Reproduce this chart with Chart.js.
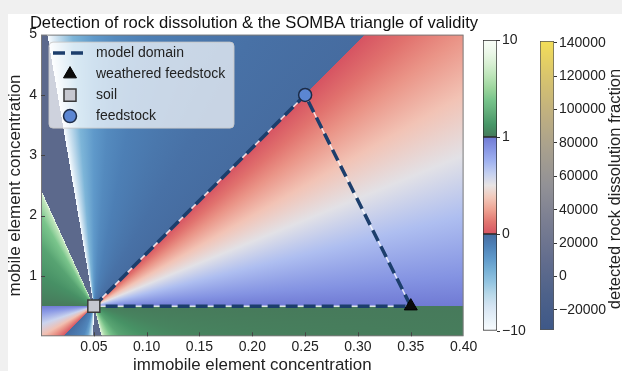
<!DOCTYPE html>
<html>
<head>
<meta charset="utf-8">
<title>SOMBA triangle of validity</title>
<script src="https://cdn.jsdelivr.net/npm/chart.js@4.4.1/dist/chart.umd.min.js"></script>
<style>
  html, body { margin: 0; padding: 0; background: #f0f0f0; }
  #page { position: relative; width: 622px; height: 371px; overflow: hidden; }
  #paper { position: absolute; left: 8px; top: 14px; right: 0; bottom: 0; background: #fff; }
  canvas { position: absolute; top: 0; }
  #main { left: 0; }
  #cb1 { left: 470px; }
  #cb2 { left: 527px; }
</style>
</head>
<body>
<div id="page">
  <div id="paper"></div>
  <canvas id="main" width="622" height="371"></canvas>
  <canvas id="cb1" width="60" height="371"></canvas>
  <canvas id="cb2" width="95" height="371"></canvas>
</div>
<script>
// end members (immobile, mobile concentration)
var endLabels   = ['soil', 'feedstock', 'weathered feedstock'];
var endImmobile = [0.05, 0.25, 0.35];
var endMobile   = [0.5, 4.0, 0.5];
var domainPath  = [0, 1, 2, 0];   // soil -> feedstock -> weathered -> soil

// dissolution value read along the plot border (field is a fan around the soil point)
var edgeX = [0.40, 0.40, 0.25, 0.15, 0.10, 0.075, 0.067, 0.061, 0.0575, 0.0575, 0.0495, 0.0495, 0.047, 0.044, 0.04, 0.03, 0.0214, 0.0214, 0.01, 0.0,
             0.0, 0.0, 0.0, 0.0, 0.0, 0.0, 0.0, 0.0, 0.0, 0.0, 0.0,
             0.006, 0.006, 0.015, 0.03, 0.05, 0.07, 0.10, 0.15, 0.20, 0.3071, 0.3071, 0.35, 0.40,
             0.40, 0.40, 0.40, 0.40, 0.40];
var edgeY = [0.5, 0, 0, 0, 0, 0, 0, 0, 0, 0, 0, 0, 0, 0, 0, 0, 0, 0, 0, 0,
             0.2, 0.4, 0.5, 0.5, 1.0, 1.5, 2.0, 2.35, 2.43, 2.43, 5,
             5, 5, 5, 5, 5, 5, 5, 5, 5, 5, 5, 5, 5,
             4, 3, 2, 1, 0.5];
var edgeF = [1.01, 1.11, 1.2, 1.42, 1.95, 2.9, 4.2, 6, 8.5, 11, -11, -10, -6, -3, -1.5, -0.6, -0.02, 0, 0.22, 0.35,
             0.6, 0.86, 0.99, 1.01, 1.9, 2.8, 4.5, 6.8, 9, 11, 11,
             -11, -10, -7, -4, -2.5, -1.7, -1.1, -0.6, -0.3, -0.02, 0, 0.11, 0.21,
             0.36, 0.52, 0.7, 0.89, 1.0];

// colour bars
var levelTicks = [-10, 0, 1, 10];
var fracRange  = [-32000, 141000];
var fracTicks  = [-20000, 0, 20000, 40000, 60000, 80000, 100000, 120000, 140000];

var FONT = '"Liberation Sans", Arial, Helvetica, sans-serif';
Chart.defaults.font.family = FONT;
Chart.defaults.color = '#222';

// colour ramps (already blended with white like the original)
var BLUES = [[249,252,255],[231,241,249],[214,229,243],[185,217,233],[148,197,225],[119,177,214],[95,153,202],[78,130,184],[70,108,160]];
var COOL  = [[112,122,212],[135,150,228],[160,178,240],[196,208,240],[232,228,228],[242,200,186],[238,162,146],[226,118,112],[214,84,98]];
var GREENS = [[71,122,91],[71,150,103],[97,172,121],[118,195,138],[155,213,156],[187,228,183],[215,239,210],[236,248,233],[249,253,248]];
var SLATE = 'rgb(92,105,140)';
var CIVIDIS = [[62,88,136],[78,98,138],[100,110,142],[122,126,146],[146,145,150],[168,160,142],[192,176,128],[216,196,110],[243,222,88]];

function ramp(stops, t) {
  t = Math.min(1, Math.max(0, t));
  var p = t * (stops.length - 1);
  var i = Math.min(stops.length - 2, Math.floor(p));
  var f = p - i, a = stops[i], b = stops[i + 1];
  return 'rgb(' + [0, 1, 2].map(function (k) { return Math.round(a[k] + (b[k] - a[k]) * f); }).join(',') + ')';
}

function fieldColour(F) {
  if (F > 10 || F < -10) return SLATE;
  if (F < 0) return ramp(BLUES, (F + 10) / 10);
  if (F <= 1) return ramp(COOL, 1 - F);
  return ramp(GREENS, (F - 1) / 9);
}

// conic gradient centred on the soil point, stops placed at the border points
function fieldGradient(ctx) {
  var chart = ctx.chart;
  if (!chart.chartArea) return 'rgba(0,0,0,0)';
  var sx = chart.scales.x, sy = chart.scales.y;
  var cx = sx.getPixelForValue(endImmobile[0]), cy = sy.getPixelForValue(endMobile[0]);
  var g = chart.ctx.createConicGradient(0, cx, cy);
  var prev = 0;
  edgeX.forEach(function (x, i) {
    var a = Math.atan2(sy.getPixelForValue(edgeY[i]) - cy, sx.getPixelForValue(x) - cx);
    if (a < 0) a += 2 * Math.PI;
    if (a < prev - 1e-9) a += 2 * Math.PI;
    prev = a;
    g.addColorStop(Math.min(1, Math.max(0, a / (2 * Math.PI))), fieldColour(edgeF[i]));
  });
  return g;
}

function pts(idx) {
  return idx.map(function (i) { return {x: endImmobile[i], y: endMobile[i]}; });
}

function fmtNum(v) {
  return v < 0 ? '\u2212' + Math.abs(v) : String(v);
}

// frame, inward ticks and the boxed legend
var framePlugin = {
  id: 'frame',
  afterDatasetsDraw: function (chart) {
    var ctx = chart.ctx, a = chart.chartArea;
    ctx.save();
    ctx.strokeStyle = '#7a7a7a';
    ctx.lineWidth = 1;
    ctx.strokeRect(a.left + 0.5, a.top + 0.5, a.right - a.left - 1, a.bottom - a.top - 1);
    ctx.strokeStyle = '#444';
    ctx.beginPath();
    chart.scales.x.ticks.forEach(function (t) {
      if (t.value <= 0 || t.value >= 0.4) return;
      var px = Math.round(chart.scales.x.getPixelForValue(t.value)) + 0.5;
      ctx.moveTo(px, a.bottom); ctx.lineTo(px, a.bottom - 4);
    });
    chart.scales.y.ticks.forEach(function (t) {
      if (t.value <= 0 || t.value >= 5) return;
      var py = Math.round(chart.scales.y.getPixelForValue(t.value)) + 0.5;
      ctx.moveTo(a.left, py); ctx.lineTo(a.left + 4, py);
    });
    ctx.stroke();
    ctx.restore();
  }
};

var boxLegend = {
  id: 'boxLegend',
  afterDraw: function (chart) {
    var ctx = chart.ctx, a = chart.chartArea;
    var x0 = a.left + 8, y0 = a.top + 7.5, w = 185, h = 86;
    ctx.save();
    ctx.beginPath();
    ctx.roundRect(x0, y0, w, h, 4);
    ctx.fillStyle = 'rgba(255,255,255,0.7)';
    ctx.fill();
    ctx.strokeStyle = 'rgba(200,200,200,0.9)';
    ctx.lineWidth = 1;
    ctx.stroke();

    var ds = chart.data.datasets;
    var items = [2, 3, 4, 5];
    ctx.font = '14px ' + FONT;
    ctx.textBaseline = 'middle';
    items.forEach(function (di, r) {
      var d = ds[di];
      var yy = y0 + 11 + r * 21;
      var mx = x0 + 21;
      if (d.pointRadius === 0) {
        ctx.save();
        ctx.strokeStyle = d.borderColor;
        ctx.lineWidth = d.borderWidth;
        ctx.setLineDash(d.borderDash);
        ctx.beginPath();
        ctx.moveTo(x0 + 4, yy); ctx.lineTo(x0 + 36, yy);
        ctx.stroke();
        ctx.restore();
      } else {
        ctx.fillStyle = d.backgroundColor;
        ctx.strokeStyle = d.borderColor;
        ctx.lineWidth = d.borderWidth;
        Chart.helpers.drawPoint(ctx, {pointStyle: d.pointStyle, radius: d.pointRadius, rotation: 0, borderWidth: d.borderWidth}, mx, yy);
      }
      ctx.fillStyle = '#222';
      ctx.fillText(d.label, x0 + 47, yy + 0.5);
    });
    ctx.restore();
  }
};

new Chart(document.getElementById('main'), {
  type: 'scatter',
  data: {
    datasets: [
      {label: 'field', data: [{x: 0, y: 5}, {x: 0.4, y: 5}], showLine: true, fill: 'start',
       backgroundColor: fieldGradient, borderWidth: 0, pointRadius: 0, order: 10},
      {label: 'underlay', data: pts(domainPath), showLine: true, borderColor: 'rgba(255,255,255,0.8)',
       borderWidth: 1.5, pointRadius: 0, order: 3},
      {label: 'model domain', data: pts(domainPath), showLine: true, borderColor: '#1c3e6c',
       borderWidth: 3.5, borderDash: [12, 6], borderCapStyle: 'butt', pointRadius: 0, order: 2},
      {label: 'weathered feedstock', data: pts([2]), pointStyle: 'triangle', pointRadius: 7.5,
       backgroundColor: '#0b0b0b', borderColor: '#000', borderWidth: 1, order: 1},
      {label: endLabels[0], data: pts([0]), pointStyle: 'rect', pointRadius: 8.5,
       backgroundColor: '#c6c8d0', borderColor: '#3a3a3a', borderWidth: 1.5, order: 1},
      {label: endLabels[1], data: pts([1]), pointStyle: 'circle', pointRadius: 6.5,
       backgroundColor: '#5b86d2', borderColor: '#1c2c48', borderWidth: 1.5, order: 1}
    ]
  },
  options: {
    responsive: false,
    animation: false,
    events: [],
    layout: {padding: {left: 0, right: 114, top: 0, bottom: 0}},
    plugins: {
      legend: {display: false},
      tooltip: {enabled: false},
      title: {
        display: true,
        text: 'Detection of rock dissolution & the SOMBA triangle of validity',
        font: {size: 16.6, weight: 'normal'}, color: '#111',
        padding: {top: 13.5, bottom: 1.2}
      }
    },
    scales: {
      x: {
        type: 'linear', min: 0, max: 0.4,
        ticks: {stepSize: 0.05, autoSkip: false, maxRotation: 0, padding: 2, font: {size: 14},
                callback: function (v) { return v === 0 ? '' : v.toFixed(2); }},
        grid: {display: false, drawTicks: false},
        border: {display: false},
        title: {display: true, text: 'immobile element concentration', font: {size: 16.9, lineHeight: 0.7}, padding: 0},
        afterFit: function (s) { s.height = 34.7; }
      },
      y: {
        type: 'linear', min: 0, max: 5,
        ticks: {stepSize: 1, autoSkip: false, padding: 4, font: {size: 14},
                callback: function (v) { return v === 0 ? '' : v; }},
        grid: {display: false, drawTicks: false},
        border: {display: false},
        title: {display: true, text: 'mobile element concentration', font: {size: 17}, padding: {top: 5, bottom: 0}},
        afterFit: function (s) { s.width = 41; }
      },
      // empty strip on the right so the title centres over the plot
      yPad: {
        position: 'right', display: true,
        ticks: {display: false}, grid: {display: false, drawTicks: false}, border: {display: false},
        afterFit: function (s) { s.width = 44.4; }
      }
    }
  },
  plugins: [framePlugin, boxLegend]
});

// ---- colour bar of the dissolution value (three equal segments) ----
function segGradient(ctx, i) {
  var chart = ctx.chart;
  if (!chart.chartArea) return 'rgba(0,0,0,0)';
  var y = chart.scales.y;
  var g = chart.ctx.createLinearGradient(0, y.getPixelForValue(i), 0, y.getPixelForValue(i + 1));
  for (var k = 0; k <= 16; k++) {
    var t = k / 16, c;
    if (i === 0) c = ramp(BLUES, t);
    else if (i === 1) c = ramp(COOL, 1 - t);
    else c = ramp(GREENS, t);
    g.addColorStop(t, c);
  }
  return g;
}

new Chart(document.getElementById('cb1'), {
  type: 'bar',
  data: {
    labels: [''],
    datasets: [0, 1, 2].map(function (i) {
      return {data: [[i, i + 1]], backgroundColor: function (ctx) { return segGradient(ctx, i); },
              borderColor: '#2a2a2a', borderWidth: 1, borderSkipped: false,
              grouped: false, barPercentage: 1, categoryPercentage: 1};
    })
  },
  options: {
    responsive: false, animation: false, events: [],
    layout: {padding: {left: 13, right: 0, top: 40, bottom: 40}},
    plugins: {legend: {display: false}, tooltip: {enabled: false}},
    scales: {
      x: {display: false},
      y: {
        position: 'right', min: 0, max: levelTicks.length - 1,
        afterBuildTicks: function (s) { s.ticks = levelTicks.map(function (_, i) { return {value: i}; }); },
        ticks: {autoSkip: false, padding: 2, font: {size: 14}, color: '#222',
                callback: function (v, i) { return fmtNum(levelTicks[i]); }},
        grid: {drawOnChartArea: false, tickLength: 3, color: '#333'},
        border: {display: false},
        afterFit: function (s) { s.width = 33; }
      }
    }
  }
});

// ---- colour bar of the detected rock dissolution fraction ----
var cbTitle = {
  id: 'cbTitle',
  afterDraw: function (chart) {
    var ctx = chart.ctx;
    ctx.save();
    ctx.translate(88, 189);
    ctx.rotate(-Math.PI / 2);
    ctx.font = '16.5px ' + FONT;
    ctx.fillStyle = '#222';
    ctx.textAlign = 'center';
    ctx.textBaseline = 'middle';
    ctx.fillText('detected rock dissolution fraction', 0, 0);
    ctx.restore();
  }
};

new Chart(document.getElementById('cb2'), {
  type: 'bar',
  data: {
    labels: [''],
    datasets: [{
      data: [fracRange],
      backgroundColor: function (ctx) {
        var chart = ctx.chart;
        if (!chart.chartArea) return 'rgba(0,0,0,0)';
        var y = chart.scales.y;
        var g = chart.ctx.createLinearGradient(0, y.getPixelForValue(fracRange[0]), 0, y.getPixelForValue(fracRange[1]));
        CIVIDIS.forEach(function (c, k) { g.addColorStop(k / (CIVIDIS.length - 1), ramp(CIVIDIS, k / (CIVIDIS.length - 1))); });
        return g;
      },
      borderColor: '#555', borderWidth: 1, borderSkipped: false,
      barPercentage: 1, categoryPercentage: 1
    }]
  },
  options: {
    responsive: false, animation: false, events: [],
    layout: {padding: {left: 13, right: 0, top: 41, bottom: 41}},
    plugins: {legend: {display: false}, tooltip: {enabled: false}},
    scales: {
      x: {display: false},
      y: {
        position: 'right', min: fracRange[0], max: fracRange[1],
        afterBuildTicks: function (s) { s.ticks = fracTicks.map(function (v) { return {value: v}; }); },
        ticks: {autoSkip: false, padding: 2, font: {size: 14}, color: '#222',
                callback: function (v) { return fmtNum(v); }},
        grid: {drawOnChartArea: false, tickLength: 3, color: '#333'},
        border: {display: false},
        afterFit: function (s) { s.width = 68; }
      }
    }
  },
  plugins: [cbTitle]
});
</script>
</body>
</html>
